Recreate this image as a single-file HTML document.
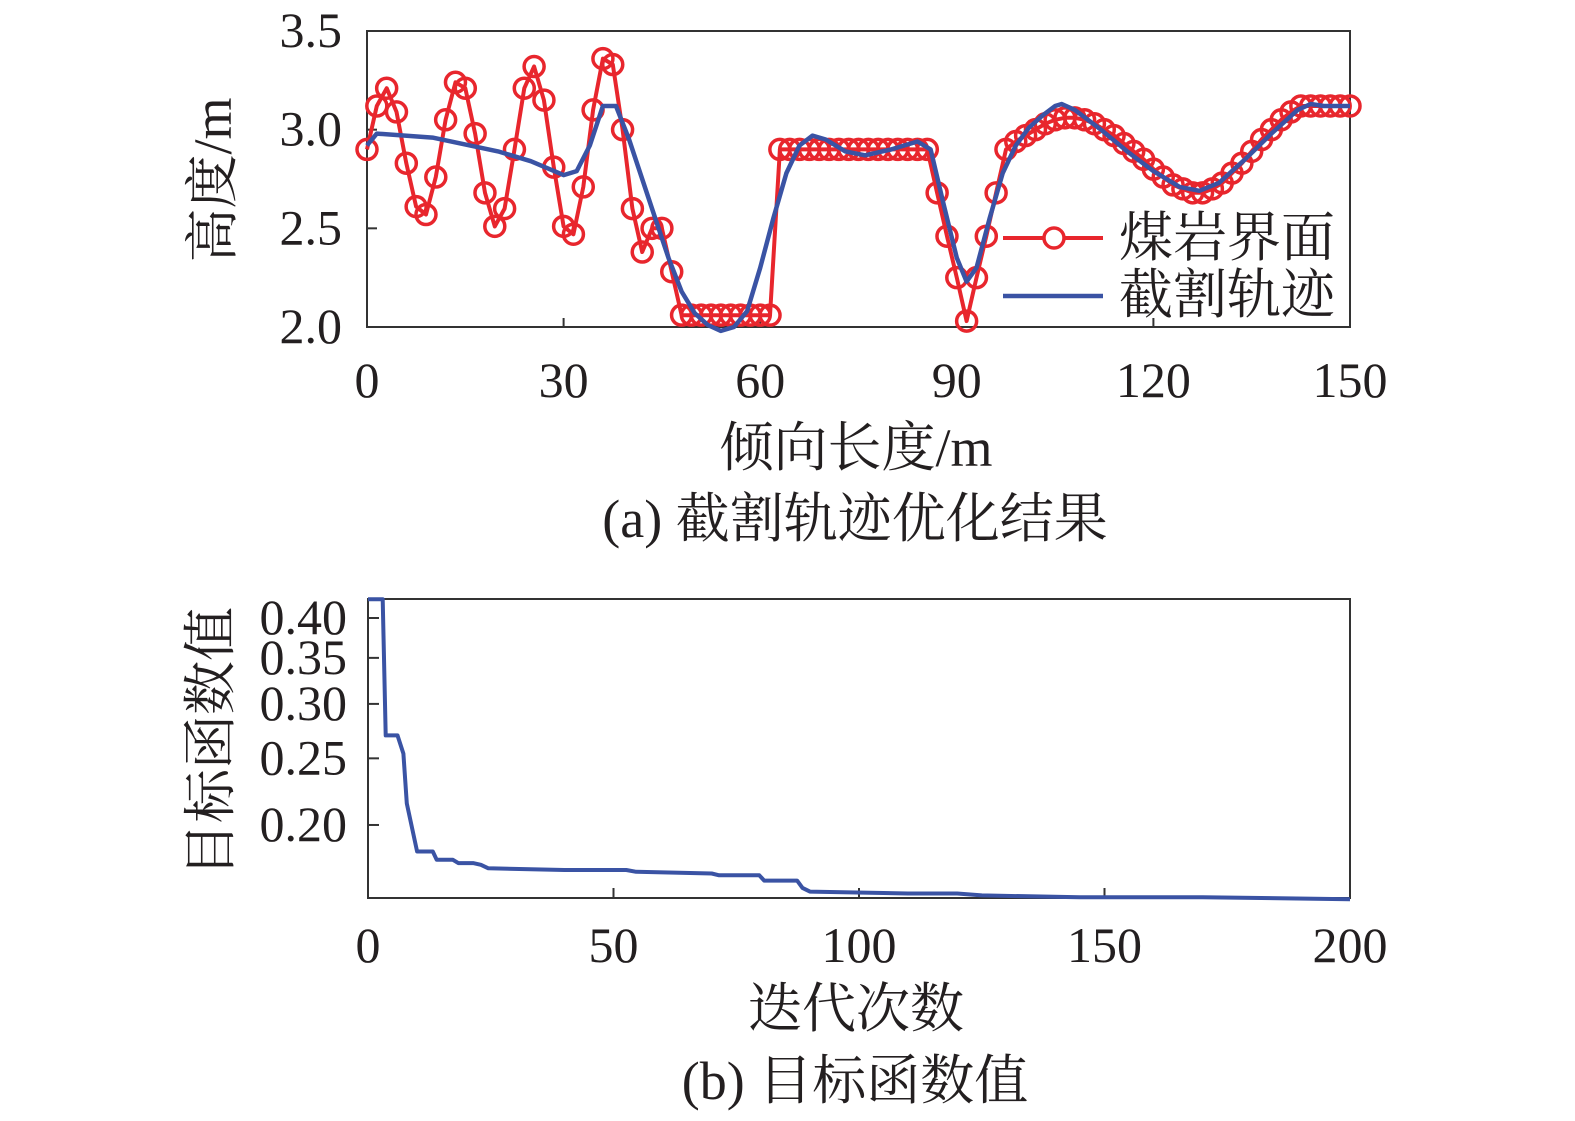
<!DOCTYPE html>
<html><head><meta charset="utf-8">
<style>
html,body{margin:0;padding:0;background:#fff;}
svg{display:block;}
text{font-family:"Liberation Serif","Noto Serif CJK SC","Noto Sans CJK SC",serif;fill:#231f20;}
</style></head>
<body>
<svg id="fig" width="1575" height="1121" viewBox="0 0 1575 1121" xmlns="http://www.w3.org/2000/svg">
<g id="chartA"></g>
<g id="chartB"></g>
</svg>
<script>
// ---- Chart (a) data ----
const seamValues = [2.90,3.12,3.21,3.09,2.83,2.61,2.57,2.76,3.05,3.24,3.21,2.98,2.68,2.51,2.60,2.90,3.21,3.32,3.15,2.81,2.51,2.47,2.71,3.10,3.36,3.33,3.00,2.60,2.38,2.50,2.50,2.28,2.06,2.06,2.06,2.06,2.06,2.06,2.06,2.06,2.06,2.06,2.90,2.90,2.90,2.90,2.90,2.90,2.90,2.90,2.90,2.90,2.90,2.90,2.90,2.90,2.90,2.90,2.68,2.46,2.25,2.03,2.25,2.46,2.68,2.90,2.94,2.97,3.00,3.03,3.05,3.06,3.06,3.05,3.03,3.00,2.97,2.93,2.89,2.85,2.80,2.76,2.72,2.70,2.68,2.68,2.70,2.73,2.78,2.83,2.89,2.95,3.00,3.05,3.09,3.12,3.12,3.12,3.12,3.12,3.12];
const seamStep = 1.5;
const trajX = [0,1.5,10,20,25,30,32,34,36,38,40,42,44,46,48,50,52,54,56,58,60,62,64,66,68,70,73,76,80,84,86,88,90,91.5,93,95,97,99,101,103,105,106,108,112,116,120,124,127,130,134,138,142,144,146,150];
const trajY = [2.92,2.98,2.96,2.89,2.84,2.77,2.79,2.92,3.12,3.12,2.95,2.75,2.55,2.35,2.18,2.07,2.01,1.98,2.00,2.08,2.30,2.55,2.78,2.92,2.97,2.95,2.89,2.87,2.90,2.94,2.90,2.62,2.35,2.23,2.30,2.55,2.78,2.92,3.01,3.07,3.12,3.13,3.10,3.00,2.89,2.79,2.71,2.69,2.73,2.85,2.98,3.10,3.13,3.12,3.12];
const xTicksA = [0,30,60,90,120,150];
const yTicksA = [2.0,2.5,3.0,3.5];
const yTickLabelsA = ["2.0","2.5","3.0","3.5"];
// ---- Chart (b) data ----
const iterX = [0,3,3.6,6,7.2,7.9,10,13.2,14,17.3,18.4,21.4,23,24.5,40,52.6,54.6,70,71.5,79.7,80.7,87.4,88.5,90,110,120,125,145,170,200];
const objY = [0.426,0.426,0.270,0.270,0.254,0.215,0.183,0.183,0.178,0.178,0.176,0.176,0.175,0.173,0.172,0.172,0.171,0.170,0.169,0.169,0.166,0.166,0.162,0.160,0.159,0.159,0.158,0.157,0.157,0.156];
const xTicksB = [0,50,100,150,200];
const yTicksB = [0.20,0.25,0.30,0.35,0.40];
const yTickLabelsB = ["0.20","0.25","0.30","0.35","0.40"];

const NS="http://www.w3.org/2000/svg";
function mk(parent, tag, attrs){const e=document.createElementNS(NS,tag);for(const k in attrs)e.setAttribute(k,attrs[k]);parent.appendChild(e);return e;}

const AL=367, AR=1350, AT=31, AB=327;
const xA = v => AL + (v-0)/150*(AR-AL);
const yA = v => AB - (v-2)/1.5*(AB-AT);
const BL=368, BR=1350, BT=599, BB=898;
const xB = v => BL + v/200*(BR-BL);
const yB = v => { const c = Math.min(v,0.426); return 618 + Math.log(0.4/c)*298.6; };

// ---- Chart A ----
const gA=document.getElementById('chartA');
let frame=mk(gA,'rect',{x:AL,y:AT,width:AR-AL,height:AB-AT,fill:'none',stroke:'#333',"stroke-width":2});


xTicksA.forEach(t=>{
  const l=mk(gA,'line',{x1:xA(t),x2:xA(t),y1:AB,y2:AB-9,stroke:'#333',"stroke-width":2});
  
  
  const tx=mk(gA,'text',{x:xA(t),y:AB+70,"text-anchor":"middle","font-size":50});
  tx.textContent=t;
  
  
});
yTicksA.forEach((t,i)=>{
  const l=mk(gA,'line',{x1:AL,x2:AL+10,y1:yA(t),y2:yA(t),stroke:'#333',"stroke-width":2});
  
  
  const tx=mk(gA,'text',{x:342,y:yA(t)+16,"text-anchor":"end","font-size":50});
  tx.textContent=yTickLabelsA[i];
  
  
});
const seamPts = seamValues.map((v,i)=>xA(i*seamStep).toFixed(1)+','+yA(v).toFixed(1)).join(' ');
const seamLine=mk(gA,'polyline',{points:seamPts,fill:'none',stroke:'#e8262d',"stroke-width":4,"stroke-linejoin":"round"});


seamValues.forEach((v,i)=>{
  const c=mk(gA,'circle',{cx:xA(i*seamStep),cy:yA(v),r:10,fill:'none',stroke:'#e8262d',"stroke-width":3.5});
  
  
});
const trajPts = trajX.map((x,i)=>xA(x).toFixed(1)+','+yA(trajY[i]).toFixed(1)).join(' ');
const trajLine=mk(gA,'polyline',{points:trajPts,fill:'none',stroke:'#3a53a4',"stroke-width":4.5,"stroke-linejoin":"round"});


const lg=mk(gA,'g',{});


let e;
e=mk(lg,'line',{x1:1003,x2:1103,y1:238,y2:238,stroke:'#e8262d',"stroke-width":4});


e=mk(lg,'circle',{cx:1054,cy:238,r:10,fill:'#fff',stroke:'#e8262d',"stroke-width":3.5});


e=mk(lg,'text',{x:1119,y:256,"font-size":54});e.textContent='煤岩界面';


e=mk(lg,'line',{x1:1003,x2:1103,y1:296,y2:296,stroke:'#3a53a4',"stroke-width":4.5});


e=mk(lg,'text',{x:1119,y:313,"font-size":54});e.textContent='截割轨迹';


e=mk(gA,'text',{x:856,y:466,"text-anchor":"middle","font-size":54});e.textContent='倾向长度/m';


e=mk(gA,'text',{x:0,y:0,"text-anchor":"middle","font-size":54,transform:'translate(231,180) rotate(-90)'});e.textContent='高度/m';


e=mk(gA,'text',{x:855,y:537,"text-anchor":"middle","font-size":54});e.textContent='(a) 截割轨迹优化结果';



// ---- Chart B ----
const gB=document.getElementById('chartB');
frame=mk(gB,'rect',{x:BL,y:BT,width:BR-BL,height:BB-BT,fill:'none',stroke:'#333',"stroke-width":2});


xTicksB.forEach(t=>{
  const l=mk(gB,'line',{x1:xB(t),x2:xB(t),y1:BB,y2:BB-10,stroke:'#333',"stroke-width":2});
  
  
  const tx=mk(gB,'text',{x:xB(t),y:BB+64,"text-anchor":"middle","font-size":50});
  tx.textContent=t;
  
  
});
yTicksB.forEach((t,i)=>{
  const l=mk(gB,'line',{x1:BL,x2:BL+11,y1:yB(t),y2:yB(t),stroke:'#333',"stroke-width":2});
  
  
  const tx=mk(gB,'text',{x:347,y:yB(t)+16,"text-anchor":"end","font-size":50});
  tx.textContent=yTickLabelsB[i];
  
  
});
const objPts = iterX.map((x,i)=>xB(x).toFixed(1)+','+yB(objY[i]).toFixed(1)).join(' ');
const objLine=mk(gB,'polyline',{points:objPts,fill:'none',stroke:'#3a53a4',"stroke-width":4,"stroke-linejoin":"round"});


e=mk(gB,'text',{x:856,y:1027,"text-anchor":"middle","font-size":54});e.textContent='迭代次数';


e=mk(gB,'text',{x:0,y:0,"text-anchor":"middle","font-size":54,transform:'translate(229,742) rotate(-90)'});e.textContent='目标函数值';


e=mk(gB,'text',{x:855,y:1099,"text-anchor":"middle","font-size":54});e.textContent='(b) 目标函数值';


</script>
</body></html>
